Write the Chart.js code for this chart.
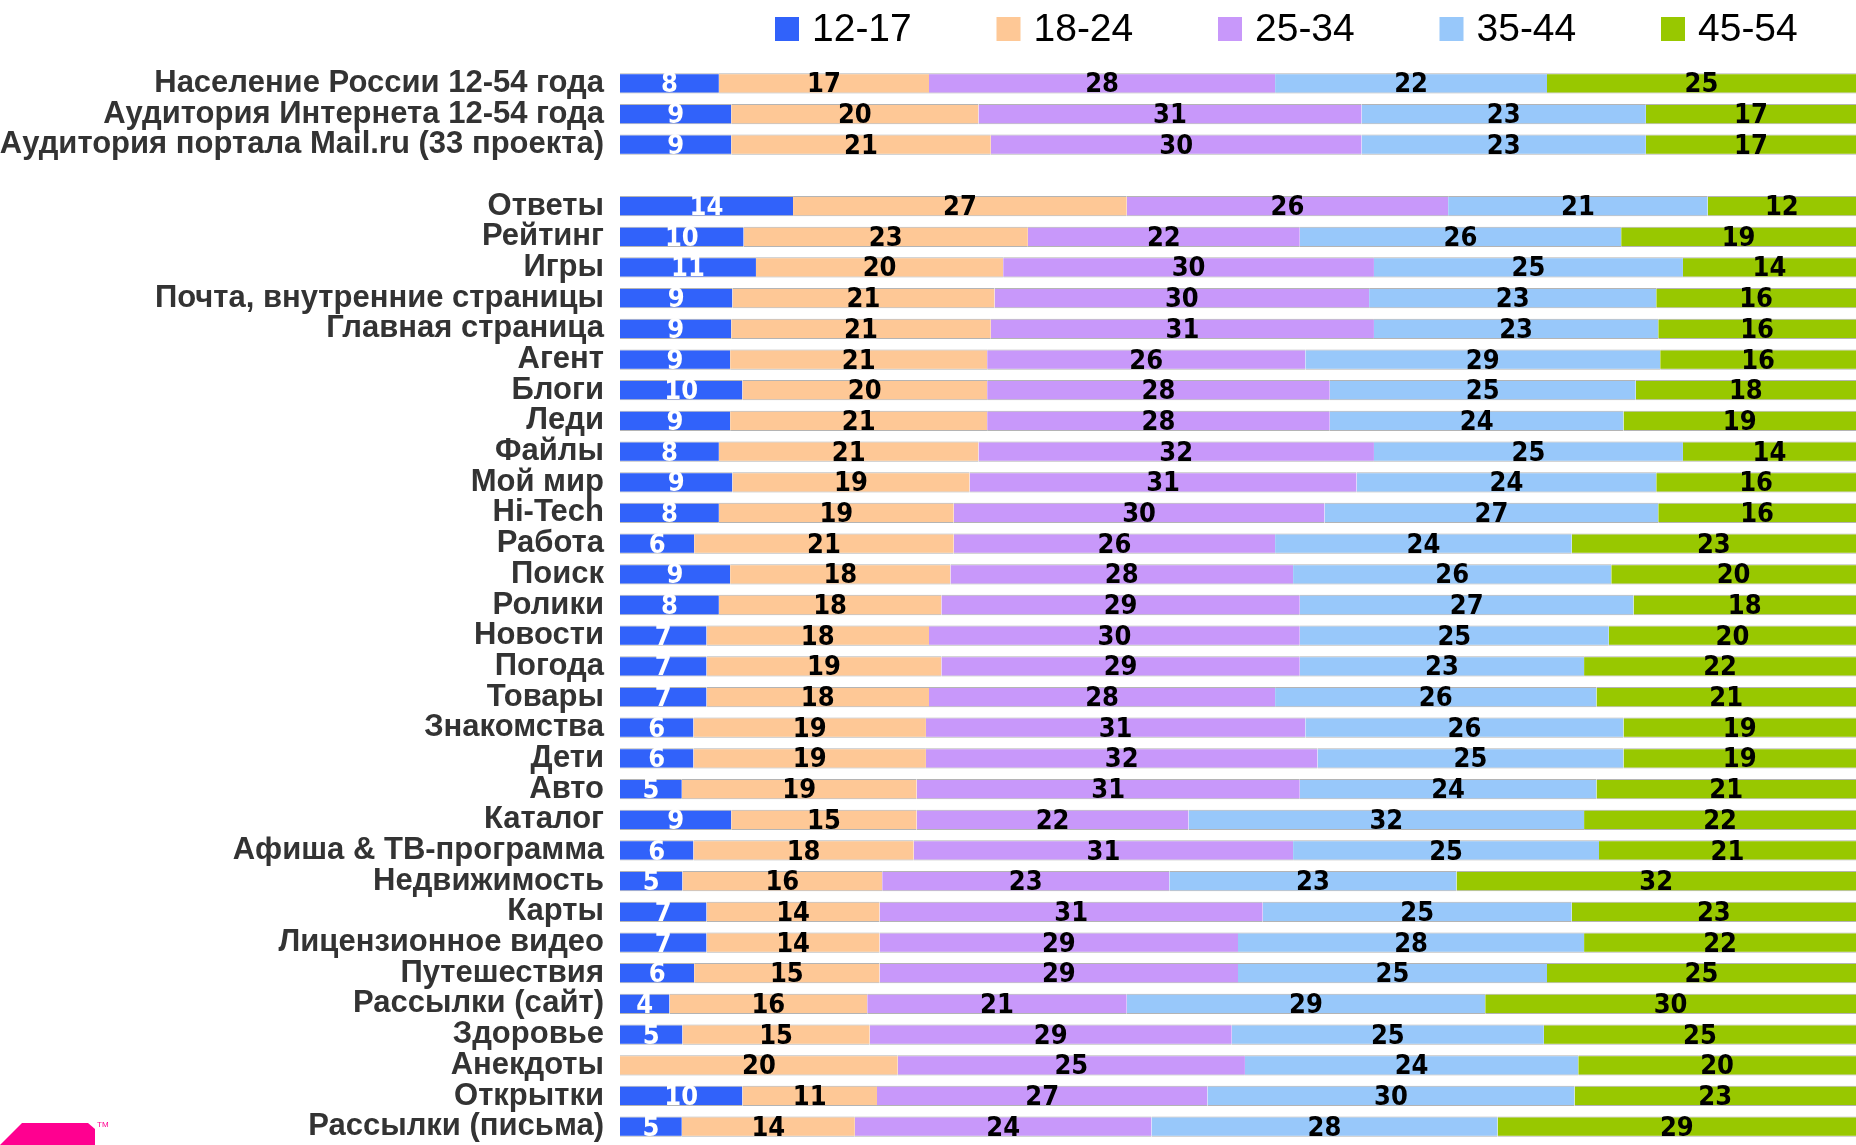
<!DOCTYPE html>
<html>
<head>
<meta charset="utf-8">
<script src="https://cdn.jsdelivr.net/npm/chart.js@4.4.1/dist/chart.umd.min.js"></script>
<style>
  html, body { margin: 0; padding: 0; background: #fff; overflow: hidden; }
  #wrap { position: relative; width: 1856px; height: 1145px; }
  #logo { position: absolute; left: 0; top: 1123px; width: 95px; height: 22px; background: #ff0090;
          clip-path: polygon(22px 0, 88px 0, 95px 6px, 95px 22px, 0 22px); }
  #tm { position: absolute; left: 97px; top: 1120px; font: 8px "Liberation Sans", sans-serif; color: #ff0090; }
</style>
</head>
<body>
<div id="wrap">
  <canvas id="myChart" width="1856" height="1145"></canvas>
  <div id="logo"></div>
  <div id="tm">TM</div>
</div>
<script>
// Chart data
const categories = [
  "Население России 12-54 года",
  "Аудитория Интернета 12-54 года",
  "Аудитория портала Mail.ru (33 проекта)",
  "",
  "Ответы", "Рейтинг", "Игры", "Почта, внутренние страницы", "Главная страница",
  "Агент", "Блоги", "Леди", "Файлы", "Мой мир", "Hi-Tech", "Работа", "Поиск",
  "Ролики", "Новости", "Погода", "Товары", "Знакомства", "Дети", "Авто", "Каталог",
  "Афиша & ТВ-программа", "Недвижимость", "Карты", "Лицензионное видео",
  "Путешествия", "Рассылки (сайт)", "Здоровье", "Анекдоты", "Открытки",
  "Рассылки (письма)"
];

const ageGroups = ["12-17", "18-24", "25-34", "35-44", "45-54"];

const age12_17 = [8, 9, 9, null, 14, 10, 11, 9, 9, 9, 10, 9, 8, 9, 8, 6, 9, 8, 7, 7, 7, 6, 6, 5, 9, 6, 5, 7, 7, 6, 4, 5, 0, 10, 5];
const age18_24 = [17, 20, 21, null, 27, 23, 20, 21, 21, 21, 20, 21, 21, 19, 19, 21, 18, 18, 18, 19, 18, 19, 19, 19, 15, 18, 16, 14, 14, 15, 16, 15, 20, 11, 14];
const age25_34 = [28, 31, 30, null, 26, 22, 30, 30, 31, 26, 28, 28, 32, 31, 30, 26, 28, 29, 30, 29, 28, 31, 32, 31, 22, 31, 23, 31, 29, 29, 21, 29, 25, 27, 24];
const age35_44 = [22, 23, 23, null, 21, 26, 25, 23, 23, 29, 25, 24, 25, 24, 27, 24, 26, 27, 25, 23, 26, 26, 25, 24, 32, 25, 23, 25, 28, 25, 29, 25, 24, 30, 28];
const age45_54 = [25, 17, 17, null, 12, 19, 14, 16, 16, 16, 18, 19, 14, 16, 16, 23, 20, 18, 20, 22, 21, 19, 19, 21, 22, 21, 32, 23, 22, 25, 30, 25, 20, 23, 29];

const series = [age12_17, age18_24, age25_34, age35_44, age45_54];
const colors = ["#3162fa", "#fec896", "#c898fa", "#98c8fa", "#98c800"];
const labelColors = ["#ffffff", "#000000", "#000000", "#000000", "#000000"];

// 100% stacked: each row scaled to its own total
const rowTotals = categories.map((c, i) =>
  series.reduce((s, arr) => s + (arr[i] || 0), 0)
);

const data = {
  labels: categories,
  datasets: series.map((arr, k) => ({
    label: ageGroups[k],
    data: arr.map((v, i) => (v == null ? null : (v / rowTotals[i]) * 100)),
    raw: arr,
    backgroundColor: colors[k],
    borderColor: "#b4b4b4",
    borderWidth: { top: 1, bottom: 1, left: 0, right: 0 },
    borderSkipped: false,
    labelColor: labelColors[k],
  })),
};

// numbers inside segments
const segmentLabels = {
  id: "segmentLabels",
  afterDatasetsDraw: (chart) => {
    const ctx = chart.ctx;
    ctx.save();
    ctx.font = 'bold 27px "Liberation Sans Narrow", "DejaVu Sans Condensed", sans-serif';
    ctx.textAlign = "center";
    ctx.textBaseline = "middle";
    chart.data.datasets.forEach((ds, k) => {
      const meta = chart.getDatasetMeta(k);
      meta.data.forEach((bar, i) => {
        const v = ds.raw[i];
        if (!v) return;
        const p = bar.getCenterPoint();
        ctx.fillStyle = ds.labelColor;
        ctx.fillText(String(v), p.x, p.y + 2);
      });
    });
    ctx.restore();
  },
};

// legend row at the top
const topLegend = {
  id: "topLegend",
  afterDraw: (chart) => {
    const ctx = chart.ctx;
    ctx.save();
    ctx.font = '39px "Liberation Sans", Arial, sans-serif';
    ctx.textBaseline = "middle";
    chart.data.datasets.forEach((ds, k) => {
      const x = 775 + k * 221.5;
      ctx.fillStyle = ds.backgroundColor;
      ctx.fillRect(x, 17, 24, 24);
      ctx.fillStyle = "#000";
      ctx.fillText(ds.label, x + 37, 30);
    });
    ctx.restore();
  },
};

const options = {
  indexAxis: "y",
  responsive: false,
  animation: false,
  devicePixelRatio: 1,
  layout: { padding: { top: 68, bottom: 3, left: 0, right: 0 } },
  datasets: { bar: { barPercentage: 0.66, categoryPercentage: 1 } },
  plugins: {
    legend: { display: false },
    tooltip: { enabled: false },
  },
  scales: {
    x: { stacked: true, min: 0, max: 100, display: false },
    y: {
      stacked: true,
      grid: { display: false, drawTicks: false },
      border: { display: false },
      afterFit: (scale) => {
        scale.width = 620;
        scale.paddingTop = 0;
        scale.paddingBottom = 0;
      },
      ticks: {
        autoSkip: false,
        padding: 16,
        color: "#333",
        font: { family: '"Liberation Sans", Arial, sans-serif', size: 31, weight: "bold" },
      },
    },
  },
};

const ctx = document.getElementById("myChart");
new Chart(ctx, {
  type: "bar",
  data,
  options,
  plugins: [segmentLabels, topLegend],
});
</script>
</body>
</html>
